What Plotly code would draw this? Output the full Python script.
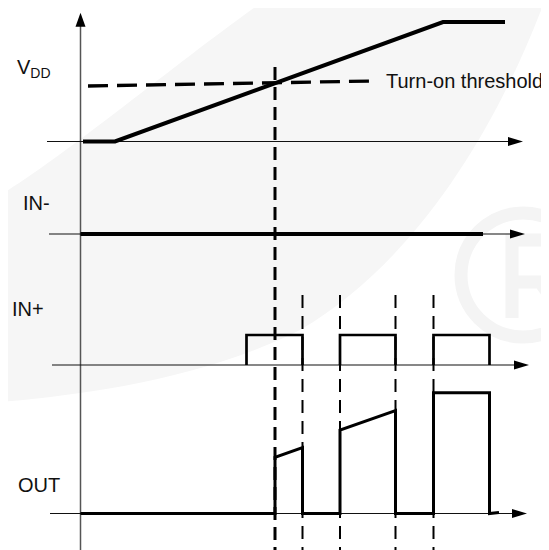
import plotly.graph_objects as go

# ---------------- data (time units / level units) ----------------
# VDD ramp
vdd_t = [0.25, 3.45, 36.25, 42.45]
vdd_v = [0.0, 0.0, 11.95, 11.95]
# turn-on threshold (dashed)
thr_t = [0.75, 29.55]
thr_v = [5.55, 6.05]
# IN- (held low)
inm_t = [0.0, 40.25]
inm_v = [0.0, 0.0]
# IN+ pulses (rise, fall) and high level
inp_rise = [16.6, 25.95, 35.3]
inp_fall = [22.2, 31.5, 40.9]
inp_high = 3.0
# OUT waveform
out_t = [0.0, 19.45, 19.45, 22.2, 22.2, 25.95, 25.95, 31.5, 31.5, 35.3, 35.3, 40.9, 40.9, 41.85]
out_v = [0.0, 0.0, 5.62, 6.58, 0.0, 0.0, 8.35, 10.28, 0.0, 0.0, 12.08, 12.08, 0.0, 0.1]
# event markers
turn_on_t = 19.45
switch_t = [22.2, 25.95, 31.5, 35.3]

row_labels = ["V<sub>DD</sub>", "IN-", "IN+", "OUT"]

# ---------------- layout constants ----------------
WIN_W, WIN_H = 549, 550
OFF = 8                      # page body margin
W, H = WIN_W - OFF, WIN_H - OFF
X0 = 80.5                    # screen px of time origin
S = 10.0                     # px per unit
def px(x, y):
    """screen pixel -> data coordinates"""
    return ((x - X0) / S, (WIN_H - y) / S)

base = {"VDD": 40.85, "INM": 31.6, "INP": 18.5, "OUT": 3.65}
FONT = "Liberation Sans, Arial, sans-serif"
BLK = "#000000"

fig = go.Figure()

# VDD
fig.add_trace(go.Scatter(x=vdd_t, y=[base["VDD"] + v for v in vdd_v], mode="lines",
                         line=dict(color=BLK, width=4)))
fig.add_trace(go.Scatter(x=thr_t, y=[base["VDD"] + v for v in thr_v], mode="lines",
                         line=dict(color=BLK, width=3.3, dash="20px,9px")))
# IN-
fig.add_trace(go.Scatter(x=inm_t, y=[base["INM"] + v for v in inm_v], mode="lines",
                         line=dict(color=BLK, width=4)))
# IN+
xs, ys = [], []
for r, f in zip(inp_rise, inp_fall):
    xs += [r, r, f, f, None]
    ys += [base["INP"], base["INP"] + inp_high, base["INP"] + inp_high, base["INP"], None]
fig.add_trace(go.Scatter(x=xs, y=ys, mode="lines", line=dict(color=BLK, width=2.7)))
# OUT
fig.add_trace(go.Scatter(x=out_t, y=[base["OUT"] + v for v in out_v], mode="lines",
                         line=dict(color=BLK, width=3)))
# dashed verticals
top_main = px(0, 66.7)[1]
top_short = px(0, 289)[1]
fig.add_trace(go.Scatter(x=[turn_on_t, turn_on_t], y=[-1, top_main], mode="lines",
                         line=dict(color=BLK, width=3, dash="13px,7px")))
xs, ys = [], []
for t in switch_t:
    xs += [t, t, None]
    ys += [-1, top_short, None]
fig.add_trace(go.Scatter(x=xs, y=ys, mode="lines",
                         line=dict(color=BLK, width=2, dash="13px,8px")))

shapes = []
# watermark swoosh
def P(x, y):
    a, b = px(x, y)
    return f"{a:.3f},{b:.3f}"
sw = ("M " + P(545, 0) + " C " + P(500, 120) + " " + P(420, 260) + " " + P(300, 330) +
      " C " + P(200, 380) + " " + P(80, 395) + " " + P(0, 402) +
      " L " + P(0, 195) + " C " + P(60, 160) + " " + P(180, 60) + " " + P(265, 0) + " Z")
shapes.append(dict(type="path", path=sw, xref="x", yref="y", fillcolor="#f6f6f6",
                   line=dict(width=0), layer="below"))
# watermark registered mark (circle + R drawn as path)
c0 = px(523 - 62, 275 - 62); c1 = px(523 + 62, 275 + 62)
shapes.append(dict(type="circle", xref="x", yref="y", x0=c0[0], y0=c1[1], x1=c1[0], y1=c0[1],
                   line=dict(color="#f4f4f4", width=13), layer="below"))
rpath = ("M " + P(512, 318) + " L " + P(512, 240) + " L " + P(545, 240) +
         " C " + P(572, 240) + " " + P(572, 282) + " " + P(545, 282) + " L " + P(512, 282) +
         " M " + P(540, 282) + " L " + P(566, 318))
shapes.append(dict(type="path", path=rpath, xref="x", yref="y",
                   line=dict(color="#f4f4f4", width=13), layer="below"))

# axes (thin lines) + arrowheads
AX = "#111111"
v_tip = px(0, 12.7)[1]
shapes.append(dict(type="line", xref="x", yref="y", x0=0, x1=0, y0=-1, y1=v_tip - 1.2,
                   line=dict(color="#555555", width=1.5), layer="below"))
def arrow_up(x, ytip):
    return dict(type="path", xref="x", yref="y",
                path=f"M {x-0.5},{ytip-1.4} L {x+0.5},{ytip-1.4} L {x},{ytip} Z",
                fillcolor=BLK, line=dict(width=0))
def arrow_right(xtip, y):
    return dict(type="path", xref="x", yref="y",
                path=f"M {xtip-1.5},{y-0.45} L {xtip-1.5},{y+0.45} L {xtip},{y} Z",
                fillcolor=BLK, line=dict(width=0))
shapes.append(arrow_up(0, v_tip))
h_axes = [("VDD", 47, 523), ("INM", 49, 525), ("INP", 52, 529), ("OUT", 50, 527)]
for key, xa, xb in h_axes:
    ta, tb = px(xa, 0)[0], px(xb, 0)[0]
    shapes.append(dict(type="line", xref="x", yref="y", x0=ta, x1=tb - 1.0,
                       y0=base[key], y1=base[key], line=dict(color=AX, width=1.2), layer="below"))
    shapes.append(arrow_right(tb, base[key]))

annotations = []
lab_pos = [(34, 68), (36, 202.5), (28, 309), (39, 485)]
for lab, (lx, ly) in zip(row_labels, lab_pos):
    a, b = px(lx, ly)
    annotations.append(dict(x=a, y=b, xref="x", yref="y", text=lab, showarrow=False,
                            xanchor="center", yanchor="middle",
                            font=dict(family=FONT, size=20, color="#111111")))
a, b = px(384, 81)
annotations.append(dict(x=a, y=b, xref="x", yref="y", text="Turn-on threshold", showarrow=False,
                        xanchor="left", yanchor="middle",
                        font=dict(family=FONT, size=20, color="#111111")))

fig.update_layout(
    width=W, height=H, margin=dict(l=0, r=0, t=0, b=0),
    paper_bgcolor="white", plot_bgcolor="white", showlegend=False,
    xaxis=dict(range=[(OFF - X0) / S, (WIN_W - X0) / S], visible=False, fixedrange=True),
    yaxis=dict(range=[0, H / S], visible=False, fixedrange=True),
    shapes=shapes, annotations=annotations,
)
fig.write_html("out.html")
